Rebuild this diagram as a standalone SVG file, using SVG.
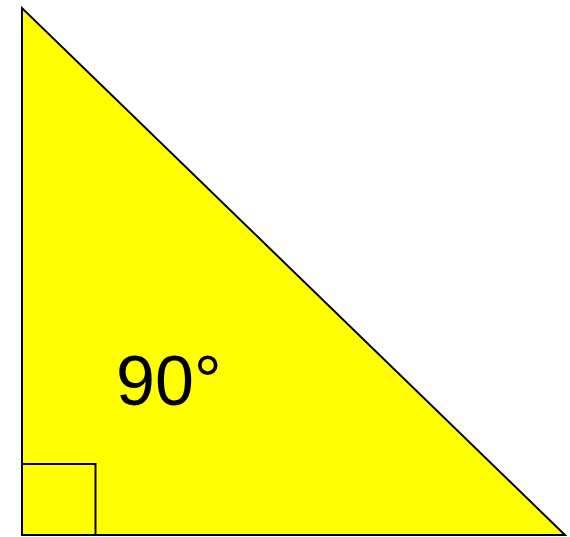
<svg xmlns="http://www.w3.org/2000/svg" width="570" height="537" viewBox="0 0 570 537">
<style>
.shape{fill:#ffff00;stroke:#000;stroke-width:2;stroke-linejoin:miter}
.lbl{font-family:"Liberation Sans",Arial,sans-serif;font-size:70px;fill:#000}
</style>
<rect width="570" height="537" fill="#fff"/>
<g id="triangle">
<polygon class="shape" points="22,8 22,535 565,535"/>
</g>
<g id="right-angle">
<rect class="shape" x="22" y="464" width="73.5" height="71"/>
</g>
<g id="label">
<text class="lbl" x="116" y="405">90°</text>
</g>
</svg>
